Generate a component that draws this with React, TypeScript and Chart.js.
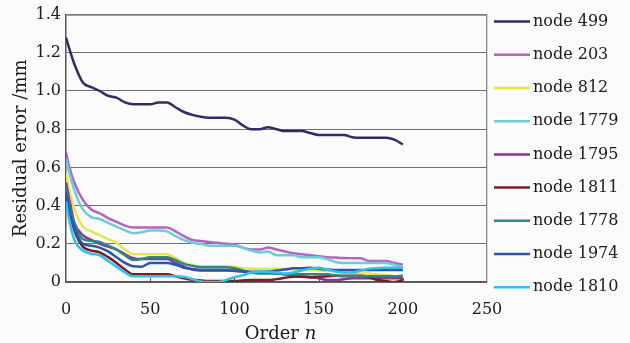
import React, { useEffect, useRef } from "react";
import { Chart, registerables } from "chart.js";
Chart.register(...registerables);

const orders = [0, 2, 5, 10, 15, 20, 25, 30, 35, 40, 45, 50, 55, 60, 65, 70, 75, 80, 85, 90, 95, 100, 105, 110, 115, 120, 125, 130, 135, 140, 145, 150, 155, 160, 165, 170, 175, 180, 185, 190, 195, 200];

const node499 = [1.28, 1.22, 1.14, 1.045, 1.02, 1.0, 0.975, 0.965, 0.94, 0.93, 0.93, 0.93, 0.94, 0.94, 0.915, 0.89, 0.875, 0.865, 0.86, 0.86, 0.86, 0.85, 0.82, 0.8, 0.8, 0.81, 0.8, 0.79, 0.79, 0.79, 0.78, 0.77, 0.77, 0.77, 0.77, 0.758, 0.755, 0.755, 0.755, 0.755, 0.745, 0.72];
const node203 = [0.68, 0.6, 0.52, 0.43, 0.38, 0.36, 0.335, 0.315, 0.295, 0.285, 0.285, 0.285, 0.285, 0.285, 0.265, 0.24, 0.22, 0.215, 0.21, 0.205, 0.2, 0.195, 0.18, 0.17, 0.17, 0.18, 0.17, 0.16, 0.15, 0.145, 0.14, 0.135, 0.13, 0.128, 0.126, 0.125, 0.124, 0.11, 0.11, 0.11, 0.1, 0.09];
const node812 = [0.57, 0.48, 0.38, 0.29, 0.265, 0.245, 0.225, 0.205, 0.17, 0.145, 0.145, 0.145, 0.145, 0.145, 0.125, 0.1, 0.085, 0.083, 0.083, 0.083, 0.083, 0.08, 0.072, 0.07, 0.07, 0.07, 0.07, 0.068, 0.066, 0.064, 0.062, 0.06, 0.058, 0.056, 0.052, 0.048, 0.045, 0.045, 0.04, 0.036, 0.03, 0.02];
const node1779 = [0.645, 0.57, 0.48, 0.38, 0.34, 0.33, 0.31, 0.29, 0.27, 0.255, 0.26, 0.27, 0.27, 0.265, 0.24, 0.22, 0.205, 0.2, 0.19, 0.19, 0.19, 0.19, 0.18, 0.165, 0.155, 0.16, 0.14, 0.14, 0.14, 0.13, 0.13, 0.13, 0.12, 0.105, 0.1, 0.1, 0.1, 0.1, 0.1, 0.1, 0.09, 0.08];
const node1795 = [0.52, 0.43, 0.31, 0.245, 0.22, 0.2, 0.185, 0.17, 0.145, 0.125, 0.12, 0.12, 0.12, 0.12, 0.1, 0.08, 0.065, 0.06, 0.06, 0.06, 0.06, 0.058, 0.055, 0.05, 0.05, 0.048, 0.045, 0.04, 0.035, 0.03, 0.025, 0.02, 0.01, 0.01, 0.015, 0.02, 0.02, 0.02, 0.02, 0.02, 0.02, 0.02];
const node1811 = [0.49, 0.38, 0.27, 0.185, 0.165, 0.155, 0.13, 0.1, 0.065, 0.04, 0.04, 0.04, 0.04, 0.04, 0.03, 0.02, 0.012, 0.008, 0.005, 0.005, 0.005, 0.005, 0.008, 0.01, 0.01, 0.01, 0.015, 0.022, 0.028, 0.028, 0.025, 0.028, 0.03, 0.033, 0.033, 0.033, 0.033, 0.025, 0.01, 0.005, 0.0, 0.01];
const node1778 = [0.5, 0.4, 0.3, 0.225, 0.215, 0.21, 0.19, 0.17, 0.14, 0.115, 0.12, 0.13, 0.13, 0.13, 0.115, 0.095, 0.085, 0.077, 0.077, 0.077, 0.077, 0.072, 0.06, 0.05, 0.045, 0.045, 0.045, 0.04, 0.04, 0.04, 0.04, 0.04, 0.04, 0.035, 0.03, 0.03, 0.03, 0.03, 0.03, 0.03, 0.03, 0.033];
const node1974 = [0.47, 0.37, 0.28, 0.2, 0.19, 0.18, 0.16, 0.13, 0.1, 0.082, 0.08, 0.1, 0.1, 0.1, 0.09, 0.075, 0.068, 0.063, 0.063, 0.063, 0.063, 0.06, 0.055, 0.054, 0.054, 0.055, 0.06, 0.065, 0.072, 0.072, 0.075, 0.07, 0.065, 0.063, 0.063, 0.063, 0.063, 0.063, 0.063, 0.063, 0.063, 0.063];
const node1810 = [0.42, 0.32, 0.22, 0.165, 0.148, 0.14, 0.11, 0.08, 0.05, 0.03, 0.03, 0.03, 0.03, 0.03, 0.03, 0.028, 0.015, 0.003, 0.0, 0.0, 0.01, 0.025, 0.035, 0.05, 0.054, 0.054, 0.05, 0.045, 0.05, 0.06, 0.07, 0.075, 0.065, 0.055, 0.05, 0.05, 0.06, 0.07, 0.072, 0.074, 0.075, 0.075];

const seriesLabels = ["node 499", "node 203", "node 812", "node 1779", "node 1795", "node 1811", "node 1778", "node 1974", "node 1810"];
const seriesColors = ["#2d2e68", "#b463c2", "#e8e34a", "#6dcdd6", "#8a3596", "#7a1f1b", "#2f8580", "#2c55b0", "#2ec1ee"];

const xTicks = [0, 50, 100, 150, 200, 250];
const yTicks = [0, 0.2, 0.4, 0.6, 0.8, 1.0, 1.2, 1.4];

const FAMILY = "'DejaVu Serif', serif";
const TEXT = "#1a1a1a";

export default function App() {
  const ref = useRef<HTMLCanvasElement>(null);
  useEffect(() => {
    document.body.style.margin = "0";
    const series = [node499, node203, node812, node1779, node1795, node1811, node1778, node1974, node1810];

    const bgPlugin = {
      id: "bg",
      beforeDraw(chart: any) {
        const c = chart.ctx;
        c.save();
        c.fillStyle = "#fbfbfb";
        c.fillRect(0, 0, chart.width, chart.height);
        c.restore();
      },
    };

    const extras = {
      id: "extras",
      afterDraw(chart: any) {
        const c = chart.ctx;
        const area = chart.chartArea;
        const xs = chart.scales.x;
        c.save();
        // top frame line
        c.setLineDash([]);
        c.globalAlpha = 1;
        c.strokeStyle = "#808080";
        c.lineWidth = 1.5;
        c.beginPath();
        c.moveTo(area.left, area.top + 0.5);
        c.lineTo(area.right, area.top + 0.5);
        c.stroke();
        // inward tick marks on x axis
        c.strokeStyle = "#555";
        c.lineWidth = 1;
        xTicks.forEach((v) => {
          if (v === 0 || v === 250) return;
          const px = Math.round(xs.getPixelForValue(v)) + 0.5;
          c.beginPath();
          c.moveTo(px, area.bottom);
          c.lineTo(px, area.bottom - 4);
          c.stroke();
        });
        // legend
        chart.data.datasets.forEach((ds: any, i: number) => {
          const y = area.top + 7 + i * 33.2;
          c.strokeStyle = ds.borderColor;
          c.lineWidth = 2.5;
          c.beginPath();
          c.moveTo(area.right + 7, y);
          c.lineTo(area.right + 43, y);
          c.stroke();
          c.fillStyle = TEXT;
          c.font = `16px ${FAMILY}`;
          c.textBaseline = "middle";
          c.textAlign = "left";
          c.fillText(ds.label, area.right + 46, y);
        });
        // x title with italic n
        const t1 = "Order ";
        const t2 = "n";
        c.font = `18px ${FAMILY}`;
        const w1 = c.measureText(t1).width;
        c.font = `italic 18px ${FAMILY}`;
        const w2 = c.measureText(t2).width;
        const cx = (area.left + area.right) / 2 + 4;
        const x0 = cx - (w1 + w2) / 2;
        c.textBaseline = "alphabetic";
        c.fillStyle = TEXT;
        c.font = `18px ${FAMILY}`;
        c.fillText(t1, x0, 339);
        c.font = `italic 18px ${FAMILY}`;
        c.fillText(t2, x0 + w1, 339);
        c.restore();
      },
    };

    const chart = new Chart(ref.current as HTMLCanvasElement, {
      type: "line",
      data: {
        datasets: series.map((vals, i) => ({
          label: seriesLabels[i],
          data: orders.map((x, j) => ({ x, y: vals[j] })),
          borderColor: seriesColors[i],
          backgroundColor: seriesColors[i],
          borderWidth: 2.5,
          pointRadius: 0,
          fill: false,
          cubicInterpolationMode: "monotone",
          borderJoinStyle: "round",
          order: series.length - i,
        })),
      },
      options: {
        animation: false,
        responsive: false,
        devicePixelRatio: 1,
        layout: { padding: { top: 14, right: 143, left: 0, bottom: 0 } },
        plugins: { legend: { display: false }, tooltip: { enabled: false } },
        scales: {
          x: {
            type: "linear",
            min: 0,
            max: 250,
            afterBuildTicks: (s: any) => {
              s.ticks = xTicks.map((v) => ({ value: v }));
            },
            grid: {
              color: (ctx: any) => (ctx.tick && ctx.tick.value === 250 ? "#858585" : "rgba(0,0,0,0)"),
              drawTicks: false,
              lineWidth: 1.3,
            },
            border: { color: "#555", width: 1.5 },
            ticks: { font: { family: FAMILY, size: 16 }, color: TEXT, padding: 18, maxRotation: 0 },
            afterFit: (s: any) => {
              s.height = 61;
            },
          },
          y: {
            min: 0,
            max: 1.4,
            afterBuildTicks: (s: any) => {
              s.ticks = yTicks.map((v) => ({ value: v }));
            },
            ticks: {
              font: { family: FAMILY, size: 16 },
              color: TEXT,
              padding: 5,
              callback: (v: any) => (Number(v) === 0 ? "0" : Number(v).toFixed(1)),
            },
            grid: {
              color: "#707070",
              drawTicks: false,
              lineWidth: 1,
            },
            border: { color: "#555", width: 1.5 },
            title: {
              display: true,
              text: "Residual error /mm",
              font: { family: FAMILY, size: 18 },
              color: TEXT,
              padding: { top: 11, bottom: 0 },
            },
            afterFit: (s: any) => {
              s.width = 66;
            },
          },
        },
      },
      plugins: [bgPlugin, extras],
    });
    return () => chart.destroy();
  }, []);
  return (
    <div style={{ width: 630, height: 343 }}>
      <canvas ref={ref} width={630} height={343} />
    </div>
  );
}
